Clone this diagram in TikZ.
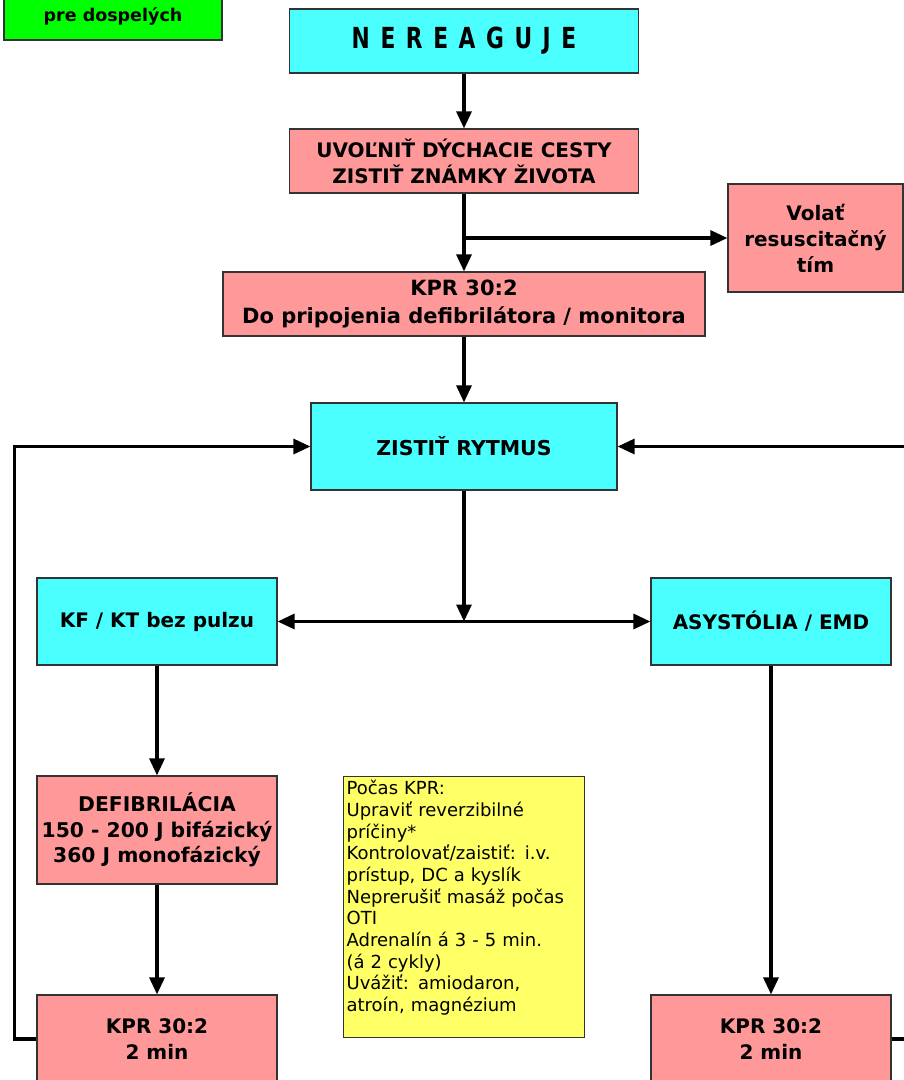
\documentclass[tikz,border=0pt]{standalone}
\usepackage{fontspec}
\setmainfont{DejaVu Sans}
\newfontfamily\narrowfont{DejaVu Sans}[FakeStretch=0.75]
\usetikzlibrary{arrows.meta,positioning,calc}
\definecolor{boxcyan}{rgb}{0.3,1,1}
\definecolor{boxpink}{rgb}{1,0.6,0.6}
\definecolor{noteyellow}{rgb}{1,1,0.4}
\definecolor{titlegreen}{rgb}{0,1,0}
\definecolor{edgegray}{rgb}{0.2,0.2,0.2}
\tikzset{>={Triangle[length=17pt,width=15pt]}}
\tikzset{box/.style={draw=edgegray, line width=1.2pt, align=center, inner sep=0pt,
    font=\bfseries\fontsize{20}{26}\selectfont}}
\tikzset{cyanbox/.style={box, fill=boxcyan}, pinkbox/.style={box, fill=boxpink}}
\tikzset{notebox/.style={draw=edgegray, line width=1.2pt, fill=noteyellow, align=left,
    font=\fontsize{18}{21.7}\selectfont}}
\tikzset{flow/.style={line width=3.2pt}}

\begin{document}
\begin{tikzpicture}[x=1pt, y=-1pt]
  \useasboundingbox (0,0) rectangle (904,1080);
  \clip (0,0) rectangle (904,1080);
  % title box, cut by the top edge
  \node[box, fill=titlegreen, minimum width=218, minimum height=80] (title) at (113,0) {};
  \node[font=\bfseries\fontsize{17.5}{22}\selectfont] (titletext) at (113,16) {pre dospelých};
  % main column
  \node[cyanbox, minimum width=349, minimum height=64,
        font=\narrowfont\bfseries\fontsize{29}{32}\selectfont] (nereaguje) at (464,41)
       {N\hspace{3pt} E\hspace{3pt} R\hspace{3pt} E\hspace{3pt} A\hspace{3pt} G\hspace{3pt} U\hspace{3pt} J\hspace{3pt} E};
  \node[pinkbox, minimum width=349, minimum height=64] (uvolnit) at (464,161)
       {UVOĽNIŤ DÝCHACIE CESTY\\ZISTIŤ ZNÁMKY ŽIVOTA};
  \node[pinkbox, minimum width=175, minimum height=108] (volat) at (815.5,238)
       {Volať\\resuscitačný\\tím};
  \node[pinkbox, minimum width=482, minimum height=64,
        font=\bfseries\fontsize{21}{28}\selectfont] (kprstart) at (464,304)
       {KPR 30:2\\Do pripojenia defibrilátora / monitora};
  \node[cyanbox, minimum width=306, minimum height=87,
        font=\bfseries\fontsize{20.5}{26}\selectfont] (rytmus) at (464,446.5) {ZISTIŤ RYTMUS};
  % two branches
  \node[cyanbox, minimum width=240, minimum height=87] (kfkt) at (157,621.5) {KF / KT bez pulzu};
  \node[cyanbox, minimum width=240, minimum height=87] (asystolia) at (771,621.5) {ASYSTÓLIA / EMD};
  \node[pinkbox, minimum width=240, minimum height=108,
        font=\bfseries\fontsize{20.3}{25.5}\selectfont] (defib) at (157,830)
       {DEFIBRILÁCIA\\150 - 200 J bifázický\\360 J monofázický};
  \node[pinkbox, minimum width=240, minimum height=88] (kprleft) at (157,1039) {KPR 30:2\\2 min};
  \node[pinkbox, minimum width=240, minimum height=88] (kprright) at (771,1039) {KPR 30:2\\2 min};
  % note
  \node[notebox, anchor=north west, text width=235, inner sep=3, text height=15, text depth=240]
       (note) at (343,776)
       {Počas KPR:\\Upraviť reverzibilné\\príčiny*\\Kontrolovať/zaistiť: i.v.\\prístup, DC a kyslík\\%
        Neprerušiť masáž počas\\OTI\\Adrenalín á 3 - 5 min.\\(á 2 cykly)\\Uvážiť: amiodaron,\\atroín, magnézium};
  % connectors
  \coordinate (callsplit) at (uvolnit.south |- volat.west);
  \coordinate (split) at (rytmus.south |- kfkt.east);
  \draw[flow,->] (nereaguje) -- (uvolnit);
  \draw[flow,->] (uvolnit) -- (kprstart);
  \draw[flow,->] (callsplit) -- (volat);
  \draw[flow,->] (kprstart) -- (rytmus);
  \draw[flow,->] (rytmus) -- (split);
  \draw[flow,<->] (kfkt) -- (asystolia);
  \draw[flow,->] (kfkt) -- (defib);
  \draw[flow,->] (defib) -- (kprleft);
  \draw[flow,->] (asystolia) -- (kprright);
  \draw[flow,->] (kprleft.west) -- ++(-22,0) |- (rytmus.west);
  \draw[flow,->] (kprright.east) -- ++(30,0) |- (rytmus.east);
\end{tikzpicture}
\end{document}
